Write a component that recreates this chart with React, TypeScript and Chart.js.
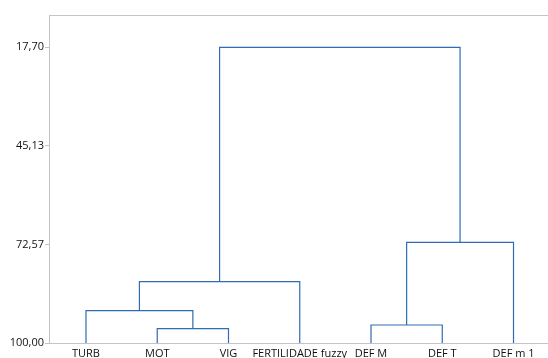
import React, { useEffect, useRef } from "react";
import { Chart, registerables } from "chart.js";

Chart.register(...registerables);

// Leaves (bottom labels), left to right
const leafLabels = ["TURB", "MOT", "VIG", "FERTILIDADE fuzzy", "DEF M", "DEF T", "DEF m 1"];
// Similarity ticks on the y axis
const yTickValues = [17.7, 45.13, 72.57, 100.0];
// Merges: ids < 7 are leaves, id 7+k is merge k
const mergeLeft = [1, 0, 8, 4, 10, 9];
const mergeRight = [2, 7, 3, 5, 6, 11];
const mergeHeight = [96.02, 91.01, 82.94, 94.99, 71.98, 17.7];

const LINE = "#2f6cb3";
const AXIS = "#c4c4c4";

function buildSegments() {
  const n = leafLabels.length;
  const xs: number[] = leafLabels.map((_, i) => i + 1);
  const hs: number[] = leafLabels.map(() => 100);
  const datasets: any[] = [];
  mergeHeight.forEach((h, k) => {
    const l = mergeLeft[k];
    const r = mergeRight[k];
    const pts = [
      { x: xs[l], y: hs[l] },
      { x: xs[l], y: h },
      { x: xs[r], y: h },
      { x: xs[r], y: hs[r] },
    ];
    xs[n + k] = (xs[l] + xs[r]) / 2;
    hs[n + k] = h;
    datasets.push({
      data: pts,
      borderColor: LINE,
      borderWidth: 1.2,
      pointRadius: 0,
      showLine: true,
      fill: false,
      tension: 0,
    });
  });
  return datasets;
}

const topBorder = {
  id: "topBorder",
  afterDraw(chart: any) {
    const { ctx, chartArea } = chart;
    ctx.save();
    ctx.strokeStyle = AXIS;
    ctx.lineWidth = 1;
    ctx.beginPath();
    ctx.moveTo(chartArea.left, chartArea.top + 0.5);
    ctx.lineTo(chartArea.right, chartArea.top + 0.5);
    ctx.stroke();
    ctx.restore();
  },
};

export default function App() {
  const ref = useRef<HTMLCanvasElement | null>(null);
  useEffect(() => {
    if (!ref.current) return;
    const chart = new Chart(ref.current, {
      type: "scatter",
      data: { datasets: buildSegments() },
      options: {
        animation: false,
        responsive: true,
        maintainAspectRatio: false,
        layout: { padding: { top: 15, left: 0, right: 0, bottom: 0 } },
        plugins: { legend: { display: false }, tooltip: { enabled: false } },
        scales: {
          x: {
            type: "linear",
            min: 0.481,
            max: 7.484,
            grid: { display: false },
            border: { display: true, color: AXIS, width: 1 },
            afterBuildTicks: (scale: any) => {
              scale.ticks = leafLabels.map((_, i) => ({ value: i + 1 }));
            },
            afterFit: (scale: any) => {
              scale.height = 15;
            },
            ticks: {
              autoSkip: false,
              maxRotation: 0,
              padding: -4,
              color: "#111",
              font: { family: "Open Sans", size: 11 },
              callback: (v: any) => leafLabels[Math.round(Number(v)) - 1] ?? "",
            },
          },
          y: {
            type: "linear",
            reverse: true,
            min: 8.71,
            max: 100,
            grid: { drawOnChartArea: false, tickLength: 4, color: AXIS },
            border: { display: true, color: AXIS, width: 1 },
            afterBuildTicks: (scale: any) => {
              scale.ticks = yTickValues.map((v) => ({ value: v }));
            },
            afterFit: (scale: any) => {
              scale.width = 49;
            },
            ticks: {
              padding: 1,
              color: "#111",
              font: { family: "Open Sans", size: 11 },
              callback: (v: any) => Number(v).toFixed(2).replace(".", ","),
            },
          },
        },
      },
      plugins: [topBorder],
    });
    return () => chart.destroy();
  }, []);
  return (
    <div style={{ position: "absolute", left: 0, top: 0, width: 548, height: 358, background: "#fff" }}>
      <canvas ref={ref} />
    </div>
  );
}
